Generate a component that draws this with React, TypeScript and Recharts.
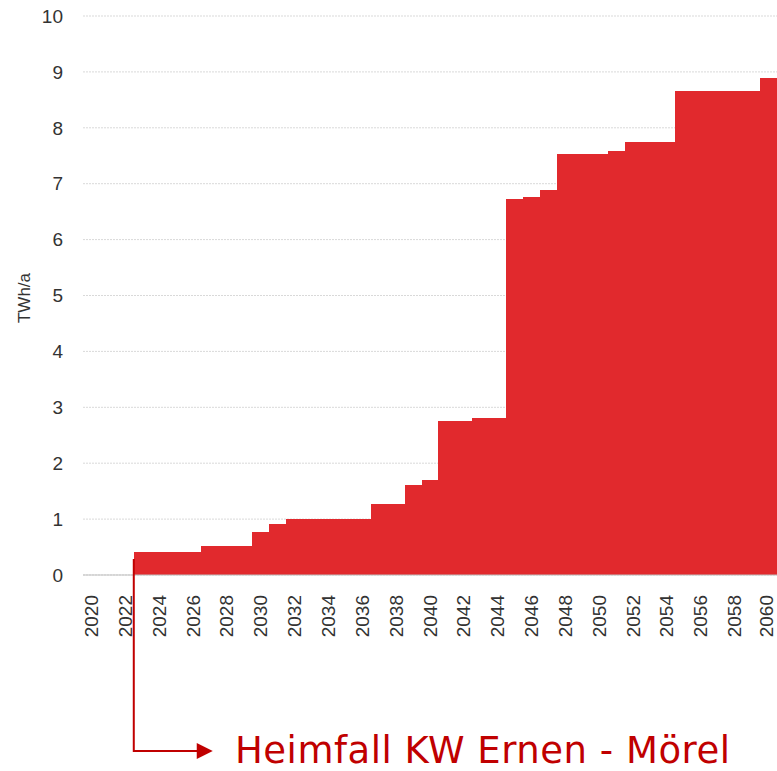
import { BarChart, Bar, XAxis, YAxis, CartesianGrid } from 'recharts';

const YEARS = [
  2020, 2021, 2022, 2023, 2024, 2025, 2026, 2027, 2028, 2029, 2030, 2031, 2032, 2033,
  2034, 2035, 2036, 2037, 2038, 2039, 2040, 2041, 2042, 2043, 2044, 2045, 2046, 2047,
  2048, 2049, 2050, 2051, 2052, 2053, 2054, 2055, 2056, 2057, 2058, 2059, 2060,
];

// TWh/a per year
const TWH = [
  0, 0, 0, 0.42, 0.42, 0.42, 0.42, 0.51, 0.51, 0.51, 0.77, 0.91, 1.01, 1.01,
  1.01, 1.01, 1.01, 1.27, 1.27, 1.61, 1.7, 2.76, 2.76, 2.8, 2.8, 6.73, 6.77, 6.89,
  7.53, 7.53, 7.53, 7.58, 7.74, 7.74, 7.74, 8.65, 8.65, 8.65, 8.65, 8.65, 8.89,
];

const Y_TICKS = [0, 1, 2, 3, 4, 5, 6, 7, 8, 9, 10];

const ANNOTATION_YEAR = 2023;
const ANNOTATION_TEXT = 'Heimfall KW Ernen - Mörel';

const data = YEARS.map((year, i) => ({ year: String(year), value: TWH[i] }));

const W = 777;
const H = 771;
const AXIS_W = 83;
const XAXIS_H = 196;
const TOP = 16;
const RED = '#e1292d';
const DARK_RED = '#c00000';
const FONT = "'Liberation Sans', Arial, sans-serif";

const XTick = ({ x, y, payload }: any) => {
  // keep the last label inside the picture
  const tx = Math.min(x, W - 11);
  return (
    <text
      x={tx}
      y={y + 12}
      transform={`rotate(-90, ${tx}, ${y + 12})`}
      textAnchor="end"
      dominantBaseline="central"
      fontSize={19}
      fill="#333"
      fontFamily={FONT}
    >
      {payload.value}
    </text>
  );
};

// bars are widened by 1px so neighbouring years merge into one stepped area
const StepBar = ({ x, y, width, height }: any) =>
  height > 0 ? (
    <rect x={x} y={y} width={width + 1} height={height} fill={RED} shapeRendering="crispEdges" />
  ) : null;

export default function App() {
  const bandW = (W - AXIS_W) / YEARS.length;
  const ax = AXIS_W + bandW * YEARS.indexOf(ANNOTATION_YEAR);
  const ay = 751;

  return (
    <div style={{ position: 'absolute', left: 0, top: 0, width: W, height: H, background: '#fff' }}>
      <BarChart
        width={W}
        height={H}
        data={data}
        margin={{ top: TOP, right: 0, bottom: 0, left: 0 }}
        barCategoryGap={0}
        barGap={0}
      >
        <CartesianGrid vertical={false} stroke="#d9d9d9" strokeDasharray="2 1" />
        <XAxis
          dataKey="year"
          interval={1}
          height={XAXIS_H}
          tickLine={false}
          axisLine={{ stroke: '#bfbfbf' }}
          tick={<XTick />}
        />
        <YAxis
          width={AXIS_W}
          domain={[0, 10]}
          ticks={Y_TICKS}
          axisLine={false}
          tickLine={false}
          tickMargin={14}
          tick={{ fontSize: 19, fill: '#333', fontFamily: FONT }}
        />
        <Bar dataKey="value" fill={RED} shape={<StepBar />} isAnimationActive={false} />
      </BarChart>
      <svg
        width={W}
        height={H}
        style={{ position: 'absolute', left: 0, top: 0, pointerEvents: 'none' }}
      >
        <text
          x={24}
          y={298}
          transform="rotate(-90, 24, 298)"
          textAnchor="middle"
          dominantBaseline="central"
          fontSize={17}
          fill="#333"
          fontFamily={FONT}
        >
          TWh/a
        </text>
        <polyline
          points={`${ax},559 ${ax},${ay} ${ax + 64},${ay}`}
          fill="none"
          stroke={DARK_RED}
          strokeWidth={2}
        />
        <polygon points={`${ax + 63},${ay - 8} ${ax + 79},${ay} ${ax + 63},${ay + 8}`} fill={DARK_RED} />
        <text
          x={235}
          y={763}
          fontSize={37}
          fill={DARK_RED}
          textLength={495}
          lengthAdjust="spacing"
          fontFamily="'DejaVu Sans', Verdana, sans-serif"
        >
          {ANNOTATION_TEXT}
        </text>
      </svg>
    </div>
  );
}
